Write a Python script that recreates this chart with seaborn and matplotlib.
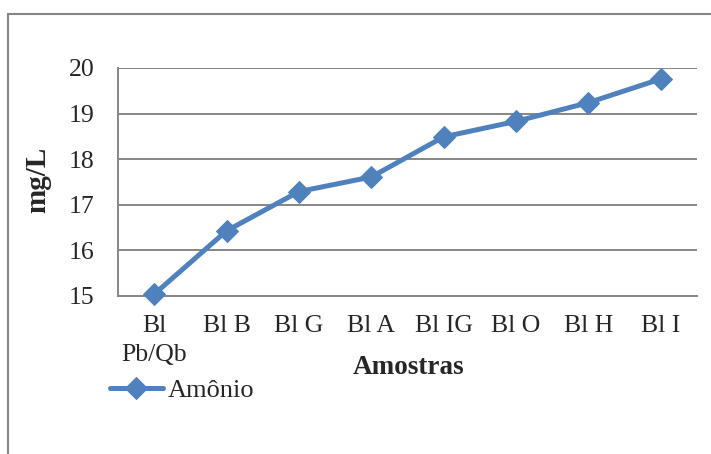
import matplotlib
matplotlib.use("Agg")
import matplotlib.pyplot as plt
import seaborn as sns
import pandas as pd
from matplotlib.patches import Rectangle
from matplotlib.ticker import FixedLocator

categories = ["Bl\nPb/Qb", "Bl B", "Bl G", "Bl A", "Bl IG", "Bl O", "Bl H", "Bl I"]
amonio = [15.04, 16.43, 17.29, 17.61, 18.49, 18.83, 19.24, 19.76]
series_name = "Amônio"

sns.set_theme(style="white")
plt.rcParams['font.family'] = ['Liberation Serif', 'DejaVu Serif']

df = pd.DataFrame({"Amostra": categories, "mg/L": amonio, "serie": series_name})

W, H = 711, 454
fig = plt.figure(figsize=(W / 100, H / 100), dpi=100)
ax = fig.add_axes([118 / W, 1 - 296 / H, (697 - 118) / W, (296 - 68) / H])

color = "#4F81BD"
sns.lineplot(data=df, x="Amostra", y="mg/L", hue="serie", palette=[color],
             marker="D", markersize=11, linewidth=3.6, markeredgecolor=color,
             sort=False, ax=ax)
for ln in ax.lines:
    ln.set_clip_on(False)
    ln.set_zorder(5)

ax.set_xlim(-0.5, len(categories) - 0.5)
ax.set_ylim(15, 20)
ax.set_yticks([15, 16, 17, 18, 19, 20])
ax.set_xticks(range(len(categories)))
ax.set_xticklabels(categories, fontsize=18.5, linespacing=1.38, va="top")
ax.xaxis.set_minor_locator(FixedLocator([i - 0.5 for i in range(len(categories) + 1)]))
ax.tick_params(axis="x", which="major", length=0, pad=14)
ax.tick_params(axis="x", which="minor", length=7, width=1.2, color="#868686", direction="out")
ax.tick_params(axis="y", which="major", length=7, width=1.2, color="#868686",
               direction="out", labelsize=18.5, pad=10)

ax.grid(axis="y", color="#868686", linewidth=1.4)
ax.set_axisbelow(True)
for s in ["top", "right"]:
    ax.spines[s].set_visible(False)
for s in ["left", "bottom"]:
    ax.spines[s].set_color("#868686")
    ax.spines[s].set_linewidth(1.4)

ax.set_ylabel("mg/L", fontsize=21, fontweight="bold", va="center")
ax.yaxis.set_label_coords((38 - 118) / 579, (296 - 180) / 228)
ax.set_xlabel("Amostras", fontsize=19.5, fontweight="bold", va="center")
ax.xaxis.set_label_coords((409 - 118) / 579, (296 - 368) / 228)

leg = ax.legend(loc="center left", bbox_to_anchor=(110 / W, 1 - 390 / H),
                bbox_transform=fig.transFigure, frameon=False, fontsize=19,
                handlelength=2.0, handletextpad=0.2, borderaxespad=0, borderpad=0)

fig.patches.append(Rectangle((8 / W, -0.1), 1.2, 1.1 - 14 / H, transform=fig.transFigure,
                             fill=False, edgecolor="#868686", linewidth=1.5))

fig.savefig("out.png", dpi=100)
